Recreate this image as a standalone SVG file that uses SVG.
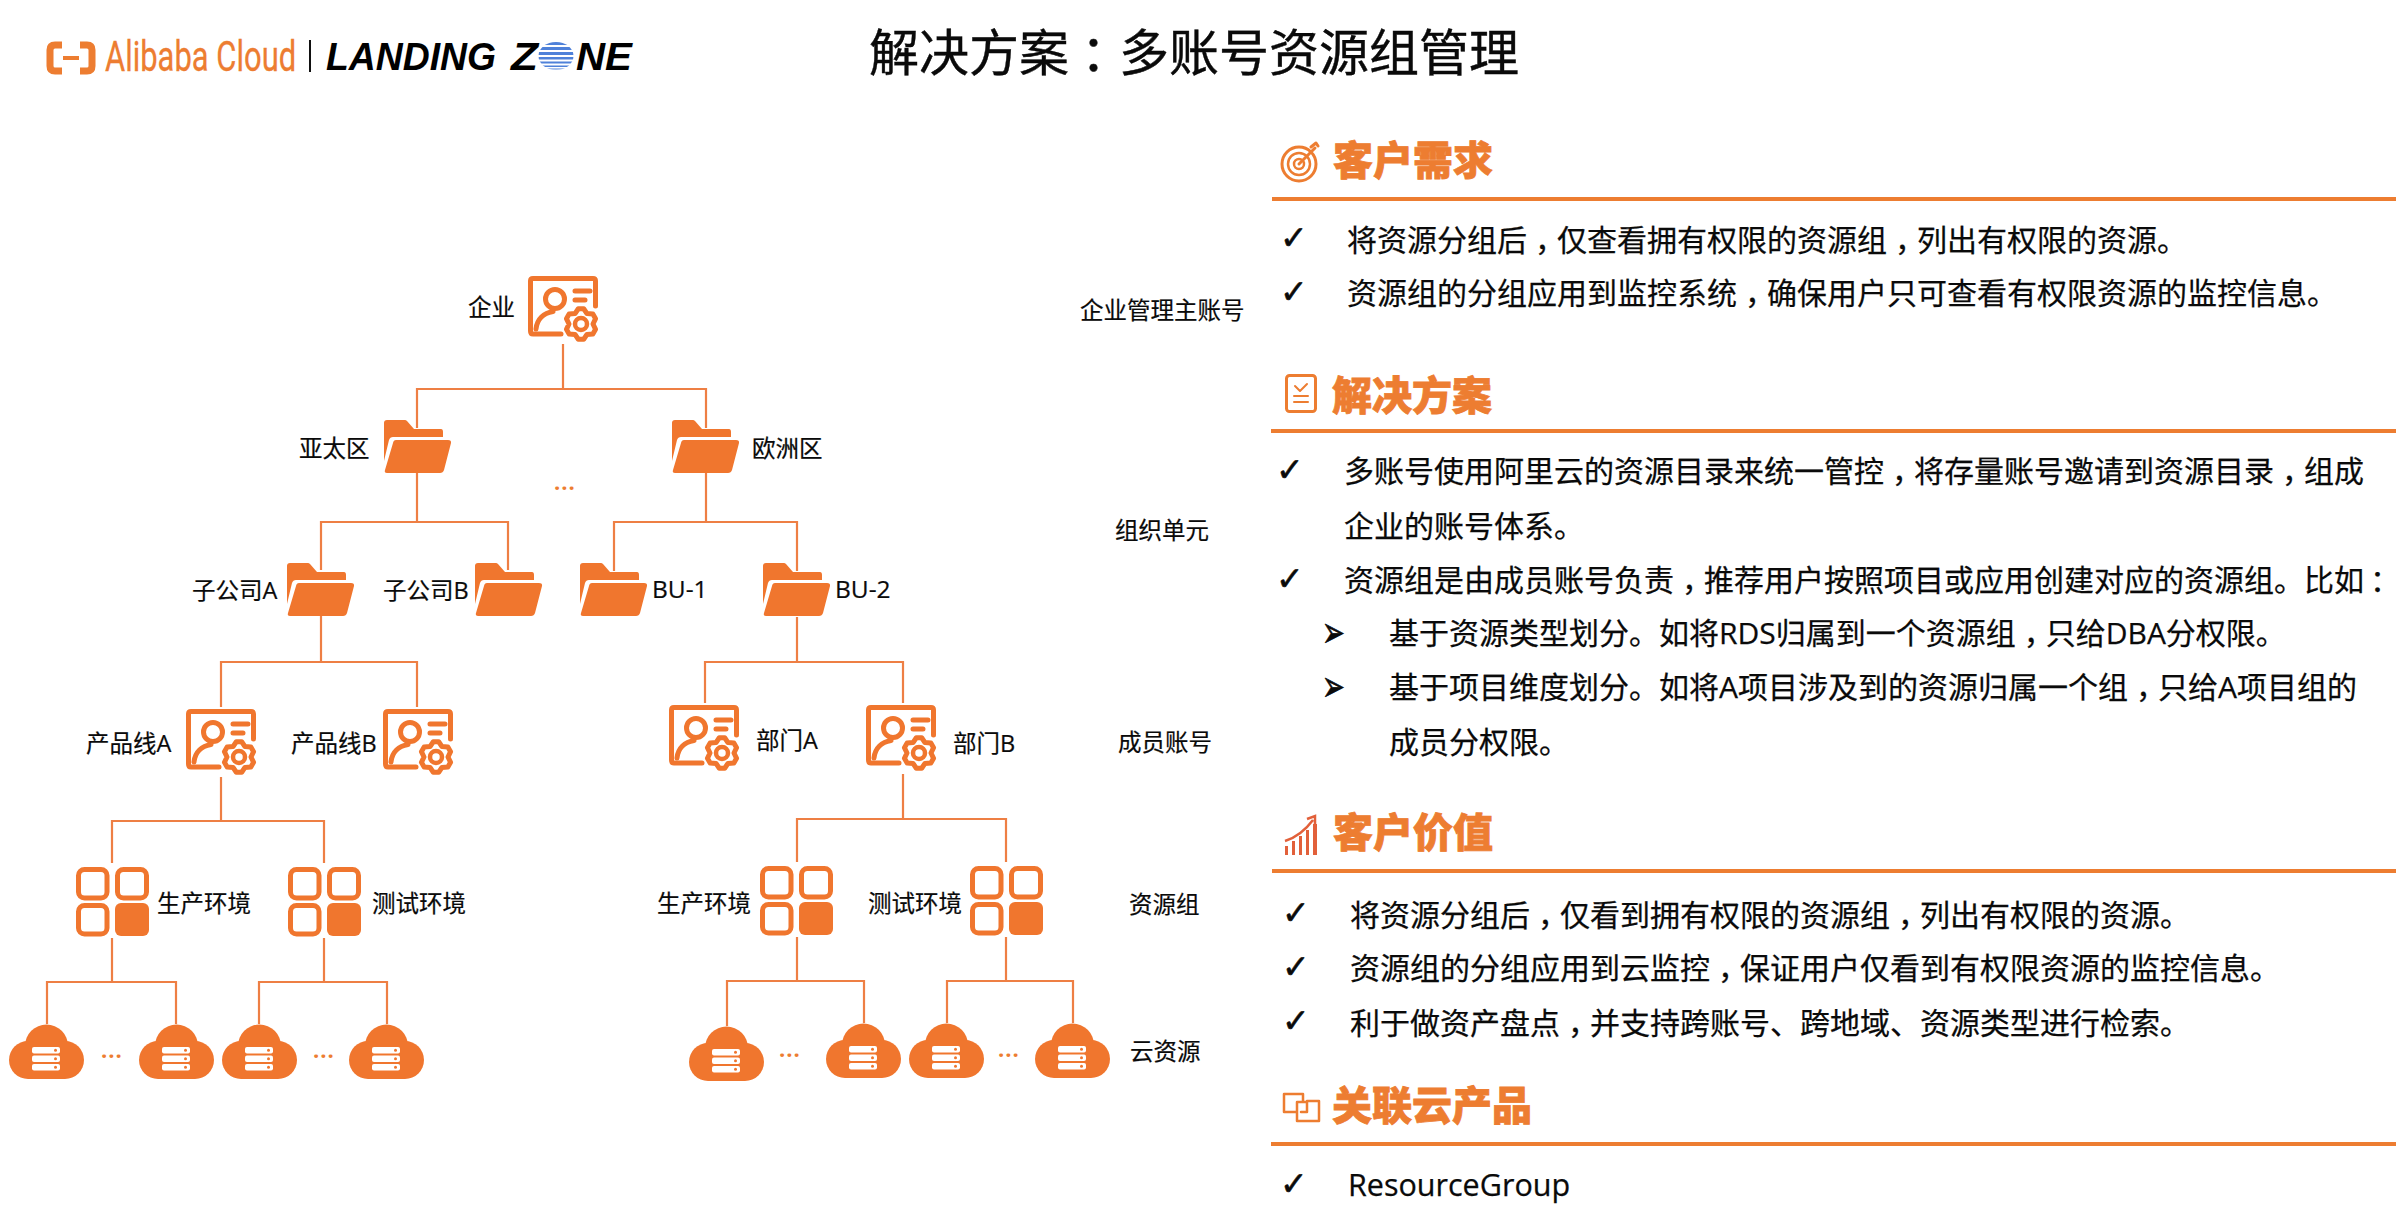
<svg xmlns="http://www.w3.org/2000/svg" width="2396" height="1226" viewBox="0 0 2396 1226">
<style>
text{font-family:"Open Sans","Noto Sans CJK SC",sans-serif;fill:#0a0a0a}
.lb{font-size:23.5px;stroke:#0a0a0a;stroke-width:.2px}
.b{font-size:30px;stroke:#0a0a0a;stroke-width:.25px}
.h{font-size:40px;font-weight:900;fill:#ed7d31;stroke:#ed7d31;stroke-width:.8px}
.t{font-size:50px;stroke:#0a0a0a;stroke-width:.4px}
.hw{font-feature-settings:"halt"}
.ck{font-family:"DejaVu Sans",sans-serif;font-size:33px;font-weight:700;stroke:#0a0a0a;stroke-width:.6px}
.ar{font-family:"DejaVu Sans",sans-serif;font-size:27px;stroke:#0a0a0a;stroke-width:.5px}
.dots{font-size:22px;font-weight:700;fill:#ed7d31;letter-spacing:1px}
.c{fill:none;stroke:#ee7f44;stroke-width:2.2}
.r{fill:#ed7d31}
.i{fill:none;stroke:#ed7d31;stroke-width:3;stroke-linecap:round;stroke-linejoin:round}
.of{fill:#f0762e}
.os{fill:none;stroke:#f0762e;stroke-width:5;stroke-linecap:round;stroke-linejoin:round}
.lz{font-family:"Liberation Sans",sans-serif;font-size:39px;font-weight:700;font-style:italic;fill:#000}
</style>
<defs>
<g id="acct">
<path class="os" d="M33 58H5Q2.500 58 2.500 55V5Q2.500 2.500 5 2.500H65Q67.500 2.500 67.500 5V30"/>
<circle class="os" cx="27" cy="23" r="9.500"/>
<path class="os" d="M8 53C9 43 16 37 25 35.500"/>
<path class="os" d="M47 15H62M47 24H57"/>
<polygon transform="translate(2,0)" points="53.690,63.260 48.310,63.260 45,58.390 39.130,57.960 36.430,53.300 39,48 36.430,42.700 39.130,38.040 45,37.610 48.310,32.740 53.690,32.740 57,37.610 62.870,38.040 65.570,42.700 63,48 65.570,53.300 62.870,57.960 57,58.390" fill="#fff" stroke="#f0762e" stroke-width="5" stroke-linejoin="round"/>
<circle cx="53" cy="48" r="6" fill="none" stroke="#f0762e" stroke-width="4.500"/>
</g>
<g id="folder" class="of">
<path d="M0 3Q0 0 3 0H21Q22 0 23 1L30 9H57Q59 9 59 12V17H9Q6 17 5 20L0 41Z"/>
<path d="M12 20H64Q67.500 20 67 23L60 50Q59 53 56 53H3Q0 53 1 50L9 23Q9.500 20 12 20Z"/>
</g>
<g id="grid">
<rect class="os" x="2.500" y="2.500" width="28.500" height="28.500" rx="6"/>
<rect class="os" x="41.500" y="2.500" width="29" height="28.500" rx="6"/>
<rect class="os" x="2.500" y="38.500" width="28.500" height="28.500" rx="6"/>
<rect class="of" x="39" y="36" width="34" height="33" rx="6"/>
</g>
<g id="cloud">
<g class="of">
<circle cx="37.500" cy="22" r="21.500"/>
<circle cx="19" cy="36" r="19"/>
<circle cx="56" cy="36" r="19"/>
<rect x="19" y="22" width="37" height="33"/>
</g>
<g fill="#fff">
<rect x="23" y="23" width="28" height="6.500" rx="2"/>
<rect x="23" y="31.500" width="28" height="6.500" rx="2"/>
<rect x="23" y="40" width="28" height="6.500" rx="2"/>
</g>
<g class="of">
<circle cx="46.500" cy="26.200" r="1.500"/>
<circle cx="46.500" cy="34.700" r="1.500"/>
<circle cx="46.500" cy="43.200" r="1.500"/>
</g>
</g>
<clipPath id="oClip"><ellipse cx="556" cy="56" rx="17.500" ry="14"/></clipPath>
</defs>

<rect width="2396" height="1226" fill="#fff"/>

<g id="logo">
<path d="M62 45H55Q50 45 50 50V66Q50 71 55 71H62M80 45H87Q92 45 92 50V66Q92 71 87 71H80" fill="none" stroke="#ed7d31" stroke-width="7"/>
<rect x="63" y="56" width="16" height="4" fill="#ed7d31"/>
<text transform="translate(105 71) scale(.72 1)" font-size="43" style="font-family:Roboto,sans-serif;fill:#ed7d31;stroke:#ed7d31;stroke-width:.3px">Alibaba Cloud</text>
<rect x="309" y="40" width="2" height="32" fill="#111"/>
<text class="lz" x="326" y="70" textLength="170" lengthAdjust="spacingAndGlyphs">LANDING</text>
<text class="lz" x="511" y="70" textLength="27" lengthAdjust="spacingAndGlyphs">Z</text>
<g clip-path="url(#oClip)" fill="#4f81d9">
<rect x="538" y="42" width="36" height="3"/><rect x="538" y="47" width="36" height="3"/><rect x="538" y="52" width="36" height="3"/><rect x="538" y="57" width="36" height="2.500"/><rect x="538" y="61.500" width="36" height="2"/><rect x="538" y="65.500" width="36" height="1.500"/><rect x="538" y="68.500" width="36" height="1"/>
</g>
<text class="lz" x="576" y="70" textLength="56" lengthAdjust="spacingAndGlyphs">NE</text>
</g>

<text id="title" class="t" x="869" y="71">解决方案<tspan class="hw" dx="12">：</tspan><tspan dx="13">多</tspan>账号资源组管理</text>

<g id="connectors" class="c">
<path d="M563 344V389M417 428V389H706V428"/>
<path d="M417 473V522M321 570V522H508V570"/>
<path d="M706 473V522M614 571V522H797V571"/>
<path d="M321 616V662M221 707V662H417V707"/>
<path d="M797 617V662M705 703V662H903V703"/>
<path d="M221 777V821M112 863V821H324V863"/>
<path d="M903 774V819M797 862V819H1006V862"/>
<path d="M112 938V982M47 1024V982H176V1024"/>
<path d="M324 938V982M259 1024V982H387V1024"/>
<path d="M797 937V981M727 1026V981H864V1023"/>
<path d="M1006 937V981M947 1023V981H1073V1023"/>
</g>

<g id="n-enterprise"><use href="#acct" x="528" y="276"/><text class="lb" x="468" y="316">企业</text></g>
<g id="n-apac"><use href="#folder" x="384" y="420"/><text class="lb" x="299" y="457">亚太区</text></g>
<g id="n-europe"><use href="#folder" x="672" y="420"/><text class="lb" x="752" y="457">欧洲区</text></g>
<text class="dots" x="554" y="490">...</text>
<g id="n-suba"><use href="#folder" x="287" y="563"/><text class="lb" x="192" y="599">子公司A</text></g>
<g id="n-subb"><use href="#folder" x="475" y="563"/><text class="lb" x="383" y="599">子公司B</text></g>
<g id="n-bu1"><use href="#folder" x="580" y="563"/><text class="lb" x="652" y="598" style="font-size:24.5px">BU-1</text></g>
<g id="n-bu2"><use href="#folder" x="763" y="563"/><text class="lb" x="835" y="598" style="font-size:24.5px">BU-2</text></g>
<g id="n-pla"><use href="#acct" x="186" y="709"/><text class="lb" x="86" y="752">产品线A</text></g>
<g id="n-plb"><use href="#acct" x="383" y="709"/><text class="lb" x="291" y="752">产品线B</text></g>
<g id="n-depa"><use href="#acct" x="669" y="705"/><text class="lb" x="756" y="749">部门A</text></g>
<g id="n-depb"><use href="#acct" x="866" y="705"/><text class="lb" x="953" y="752">部门B</text></g>
<g id="n-prod1"><use href="#grid" x="76" y="867"/><text class="lb" x="157" y="912">生产环境</text></g>
<g id="n-test1"><use href="#grid" x="288" y="867"/><text class="lb" x="372" y="912">测试环境</text></g>
<g id="n-prod2"><use href="#grid" x="760" y="866"/><text class="lb" x="657" y="912">生产环境</text></g>
<g id="n-test2"><use href="#grid" x="970" y="866"/><text class="lb" x="868" y="912">测试环境</text></g>
<g id="n-c1"><use href="#cloud" x="9" y="1024"/></g>
<g id="n-c2"><use href="#cloud" x="139" y="1024"/></g>
<g id="n-c3"><use href="#cloud" x="222" y="1024"/></g>
<g id="n-c4"><use href="#cloud" x="349" y="1024"/></g>
<g id="n-c5"><use href="#cloud" x="689" y="1026"/></g>
<g id="n-c6"><use href="#cloud" x="826" y="1023"/></g>
<g id="n-c7"><use href="#cloud" x="909" y="1023"/></g>
<g id="n-c8"><use href="#cloud" x="1035" y="1023"/></g>
<text class="dots" x="101" y="1058">...</text>
<text class="dots" x="313" y="1058">...</text>
<text class="dots" x="779" y="1057">...</text>
<text class="dots" x="998" y="1057">...</text>

<g id="tier-labels">
<text class="lb" x="1080" y="319">企业管理主账号</text>
<text class="lb" x="1115" y="539">组织单元</text>
<text class="lb" x="1118" y="751">成员账号</text>
<text class="lb" x="1129" y="913">资源组</text>
<text class="lb" x="1130" y="1060">云资源</text>
</g>

<g id="sec-need">
<g class="i"><circle cx="1299" cy="164" r="17"/><circle cx="1299" cy="164" r="11" style="stroke-width:2.500"/><circle cx="1299" cy="164" r="5" style="stroke-width:2.500"/><path d="M1299 164L1315 148M1311 147L1316 143L1318 146"/></g>
<text class="h" x="1333" y="175">客户需求</text>
<rect class="r" x="1272" y="197" width="1124" height="4"/>
<text class="ck" x="1280" y="249">✓</text>
<text class="b" x="1347" y="250.500">将资源分组后<tspan class="hw" dx="8">，</tspan><tspan dx="7">仅</tspan>查看拥有权限的资源组<tspan class="hw" dx="8">，</tspan><tspan dx="7">列</tspan>出有权限的资源。</text>
<text class="ck" x="1280" y="303">✓</text>
<text class="b" x="1347" y="304">资源组的分组应用到监控系统<tspan class="hw" dx="8">，</tspan><tspan dx="7">确</tspan>保用户只可查看有权限资源的监控信息。</text>
</g>

<g id="sec-solution">
<g class="i"><rect x="1286.500" y="375.500" width="29" height="36" rx="3"/><path d="M1295 386L1300 391L1307 384M1294 396H1308M1294 402H1308" style="stroke-width:2"/></g>
<text class="h" x="1332" y="410">解决方案</text>
<rect class="r" x="1271" y="429" width="1125" height="4"/>
<text class="ck" x="1276" y="481">✓</text>
<text class="b" x="1344" y="482">多账号使用阿里云的资源目录来统一管控<tspan class="hw" dx="8">，</tspan><tspan dx="7">将</tspan>存量账号邀请到资源目录<tspan class="hw" dx="8">，</tspan><tspan dx="7">组</tspan>成</text>
<text class="b" x="1344" y="537">企业的账号体系。</text>
<text class="ck" x="1276" y="590">✓</text>
<text class="b" x="1344" y="591">资源组是由成员账号负责<tspan class="hw" dx="8">，</tspan><tspan dx="7">推</tspan>荐用户按照项目或应用创建对应的资源组。比如<tspan class="hw" dx="6">：</tspan></text>
<text class="ar" transform="translate(1322 647) scale(1 1.6)">➢</text>
<text class="b" x="1389" y="644">基于资源类型划分。如将RDS归属到一个资源组<tspan class="hw" dx="8">，</tspan><tspan dx="7">只</tspan>给DBA分权限。</text>
<text class="ar" transform="translate(1322 701) scale(1 1.6)">➢</text>
<text class="b" x="1389" y="698">基于项目维度划分。如将A项目涉及到的资源归属一个组<tspan class="hw" dx="8">，</tspan><tspan dx="7">只</tspan>给A项目组的</text>
<text class="b" x="1389" y="753">成员分权限。</text>
</g>

<g id="sec-value">
<g fill="#e2603a"><rect x="1285" y="846" width="3" height="9"/><rect x="1292" y="841" width="3" height="14"/><rect x="1299" y="836" width="3" height="19"/><rect x="1306" y="830" width="3" height="25"/><rect x="1313" y="824" width="4" height="31"/></g>
<path d="M1285 841Q1301 836 1313 820M1307 819L1315 816L1315 825" fill="none" stroke="#e2603a" stroke-width="2.500"/>
<text class="h" x="1333" y="847">客户价值</text>
<rect class="r" x="1272" y="869" width="1124" height="4"/>
<text class="ck" x="1282" y="924">✓</text>
<text class="b" x="1350" y="925.500">将资源分组后<tspan class="hw" dx="8">，</tspan><tspan dx="7">仅</tspan>看到拥有权限的资源组<tspan class="hw" dx="8">，</tspan><tspan dx="7">列</tspan>出有权限的资源。</text>
<text class="ck" x="1282" y="978">✓</text>
<text class="b" x="1350" y="979">资源组的分组应用到云监控<tspan class="hw" dx="8">，</tspan><tspan dx="7">保</tspan>证用户仅看到有权限资源的监控信息。</text>
<text class="ck" x="1282" y="1032">✓</text>
<text class="b" x="1350" y="1034">利于做资产盘点<tspan class="hw" dx="8">，</tspan><tspan dx="7">并</tspan>支持跨账号、跨地域、资源类型进行检索。</text>
</g>

<g id="sec-product">
<path class="i" d="M1296 1112H1284V1094H1303V1101M1307 1101H1319V1121H1297V1102H1307V1112H1301" style="stroke-width:2.500"/>
<text class="h" x="1332" y="1120">关联云产品</text>
<rect class="r" x="1271" y="1142" width="1125" height="4"/>
<text class="ck" x="1280" y="1195">✓</text>
<text x="1348" y="1196" font-size="30.500" style="stroke:#0a0a0a;stroke-width:.25px">ResourceGroup</text>
</g>
</svg>
